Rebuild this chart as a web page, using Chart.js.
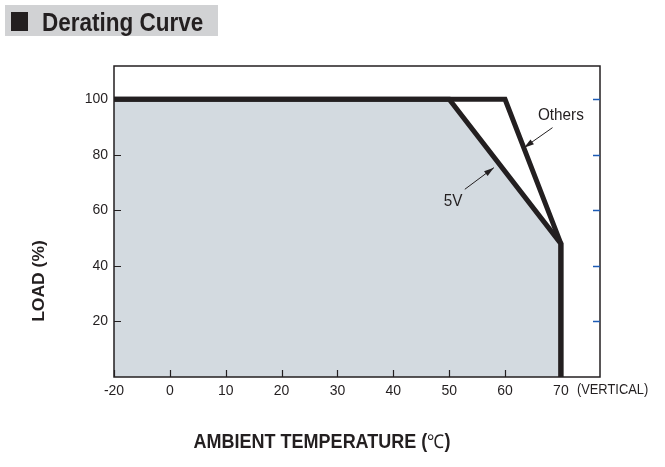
<!DOCTYPE html>
<html>
<head>
<meta charset="utf-8">
<title>Derating Curve</title>
<script src="https://cdn.jsdelivr.net/npm/chart.js@4.4.1/dist/chart.umd.min.js"></script>
<style>
  body { margin: 0; background: #fff; }
  #wrap { position: relative; width: 665px; height: 467px; }
  #header {
    position: absolute; left: 5px; top: 5px; width: 213px; height: 31px;
    background: #d1d2d4;
  }
  #header .box {
    position: absolute; left: 6px; top: 7px; width: 17px; height: 19px;
    background: #231f20;
  }
  #header .txt {
    position: absolute; left: 37px; top: 3px; line-height: 31px;
    white-space: nowrap; transform: scaleX(0.9); transform-origin: 0 0;
    font: bold 25px "Liberation Sans", Arial, sans-serif;
    color: #231f20;
  }
  canvas { position: absolute; left: 0; top: 0; }
</style>
</head>
<body>
<div id="wrap">
  <canvas id="myChart" width="665" height="467"></canvas>
  <div id="header"><div class="box"></div><div class="txt">Derating Curve</div></div>
</div>
<script>
// curve data (ambient temperature in C, load in %)
const temps5V = [-20, 50, 70, 70];
const load5V = [100, 100, 48, 0];
const tempsOthers = [-20, 60, 70, 70];
const loadOthers = [100, 100, 48, 0];

// tick labels
const xTickValues = [-20, 0, 10, 20, 30, 40, 50, 60, 70];
const yTickValues = [20, 40, 60, 80, 100];

// callout labels: text, label position, arrow start, arrow tip (data units)
const calloutText = ["Others", "5V"];
const calloutLabel = [[70, 94.4], [50.7, 63.2]];
const calloutFrom = [[68.5, 89.8], [52.8, 67.6]];
const calloutTo = [[63.4, 82.6], [58.0, 75.4]];

const ink = "#231f20";
const sans = '"Liberation Sans", Arial, sans-serif';

function toPoints(xs, ys) {
  return xs.map((x, i) => ({ x: x, y: ys[i] }));
}

// the temperature axis is broken below 0: -20 sits one step left of 0
class BrokenScale extends Chart.LinearScale {
  getPixelForValue(value) {
    return super.getPixelForValue(value < 0 ? value / 2 : value);
  }
  getValueForPixel(pixel) {
    const v = super.getValueForPixel(pixel);
    return v < 0 ? v * 2 : v;
  }
}
BrokenScale.id = "broken";
BrokenScale.defaults = Chart.LinearScale.defaults;
Chart.register(BrokenScale);

function squeezedText(ctx, text, x, y, sx) {
  ctx.save();
  ctx.translate(x, y);
  ctx.scale(sx, 1);
  ctx.fillText(text, 0, 0);
  ctx.restore();
}

const deratingPlugin = {
  id: "derating",
  afterDraw(chart) {
    const ctx = chart.ctx;
    const area = chart.chartArea;
    const xs = chart.scales.x;
    const ys = chart.scales.y;
    ctx.save();

    // frame
    ctx.strokeStyle = ink;
    ctx.lineWidth = 1.5;
    ctx.strokeRect(area.left, area.top, area.right - area.left, area.bottom - area.top);

    // inner ticks, left and bottom
    ctx.lineWidth = 1.2;
    ctx.beginPath();
    yTickValues.forEach(function (v) {
      const y = Math.round(ys.getPixelForValue(v)) + 0.5;
      ctx.moveTo(area.left, y);
      ctx.lineTo(area.left + 7, y);
    });
    xTickValues.forEach(function (v) {
      const x = Math.round(xs.getPixelForValue(v)) + 0.5;
      ctx.moveTo(x, area.bottom);
      ctx.lineTo(x, area.bottom - 7);
    });
    ctx.stroke();

    // blue ticks on the right
    ctx.strokeStyle = "#1d5bb5";
    ctx.lineWidth = 1.5;
    ctx.beginPath();
    yTickValues.forEach(function (v) {
      const y = Math.round(ys.getPixelForValue(v)) + 0.5;
      ctx.moveTo(area.right, y);
      ctx.lineTo(area.right - 7, y);
    });
    ctx.stroke();

    // callouts
    ctx.fillStyle = ink;
    ctx.strokeStyle = ink;
    ctx.lineWidth = 1;
    ctx.font = "17px " + sans;
    ctx.textAlign = "center";
    ctx.textBaseline = "middle";
    for (let i = 0; i < calloutText.length; i++) {
      const lx = xs.getPixelForValue(calloutLabel[i][0]);
      const ly = ys.getPixelForValue(calloutLabel[i][1]);
      squeezedText(ctx, calloutText[i], lx, ly, 0.9);

      const x1 = xs.getPixelForValue(calloutFrom[i][0]);
      const y1 = ys.getPixelForValue(calloutFrom[i][1]);
      const x2 = xs.getPixelForValue(calloutTo[i][0]);
      const y2 = ys.getPixelForValue(calloutTo[i][1]);
      const ang = Math.atan2(y2 - y1, x2 - x1);
      ctx.beginPath();
      ctx.moveTo(x1, y1);
      ctx.lineTo(x2, y2);
      ctx.stroke();
      ctx.beginPath();
      ctx.moveTo(x2, y2);
      ctx.lineTo(x2 - 10 * Math.cos(ang) + 3 * Math.sin(ang), y2 - 10 * Math.sin(ang) - 3 * Math.cos(ang));
      ctx.lineTo(x2 - 10 * Math.cos(ang) - 3 * Math.sin(ang), y2 - 10 * Math.sin(ang) + 3 * Math.cos(ang));
      ctx.closePath();
      ctx.fill();
    }

    // "(VERTICAL)" after the last x tick
    ctx.font = "14px " + sans;
    ctx.textAlign = "left";
    ctx.textBaseline = "top";
    squeezedText(ctx, "(VERTICAL)", xs.getPixelForValue(70) + 16, area.bottom + 6, 0.92);

    // x axis title: bold text with a light degree sign
    const sx = 0.9;
    const partA = "AMBIENT TEMPERATURE (";
    const partB = "\u2103";
    const partC = ")";
    ctx.textBaseline = "alphabetic";
    ctx.font = "bold 20px " + sans;
    const wA = ctx.measureText(partA).width;
    const wC = ctx.measureText(partC).width;
    ctx.font = "19px " + sans;
    const wB = ctx.measureText(partB).width;
    const total = (wA + wB + wC) * sx;
    let tx = 322 - total / 2;
    const base = 448;
    ctx.font = "bold 20px " + sans;
    squeezedText(ctx, partA, tx, base, sx);
    tx += wA * sx;
    ctx.font = "19px " + sans;
    squeezedText(ctx, partB, tx, base, sx);
    tx += wB * sx;
    ctx.font = "bold 20px " + sans;
    squeezedText(ctx, partC, tx, base, sx);

    // y axis title
    ctx.font = "bold 17px " + sans;
    ctx.textAlign = "center";
    ctx.textBaseline = "middle";
    ctx.translate(39, 281);
    ctx.rotate(-Math.PI / 2);
    squeezedText(ctx, "LOAD (%)", 0, 0, 1.03);
    ctx.restore();
  },
};

const myChart = new Chart(document.getElementById("myChart"), {
  type: "line",
  data: {
    datasets: [
      {
        label: "5V",
        data: toPoints(temps5V, load5V),
        borderColor: ink,
        borderWidth: 5,
        backgroundColor: "#d3dae0",
        fill: "origin",
        tension: 0,
        pointRadius: 0,
        borderJoinStyle: "miter",
      },
      {
        label: "Others",
        data: toPoints(tempsOthers, loadOthers),
        borderColor: ink,
        borderWidth: 5,
        fill: false,
        tension: 0,
        pointRadius: 0,
        borderJoinStyle: "miter",
      },
    ],
  },
  options: {
    responsive: false,
    animation: false,
    layout: { padding: { top: 66, right: 65, left: 0, bottom: 0 } },
    plugins: {
      legend: { display: false },
      tooltip: { enabled: false },
      filler: { drawTime: "beforeDatasetsDraw" },
    },
    scales: {
      x: {
        type: "broken",
        min: -10,
        max: 77,
        grid: { display: false, drawTicks: false },
        border: { display: false },
        afterBuildTicks: function (scale) {
          scale.ticks = xTickValues.map((v) => ({ value: v }));
        },
        afterFit: function (scale) {
          scale.height = 90;
        },
        ticks: {
          autoSkip: false,
          maxRotation: 0,
          padding: 6,
          color: ink,
          font: { family: sans, size: 14 },
        },
      },
      y: {
        min: 0,
        max: 112,
        grid: { display: false, drawTicks: false },
        border: { display: false },
        afterBuildTicks: function (scale) {
          scale.ticks = yTickValues.map((v) => ({ value: v }));
        },
        afterFit: function (scale) {
          scale.width = 114;
        },
        ticks: {
          padding: 6,
          color: ink,
          font: { family: sans, size: 14 },
        },
      },
    },
  },
  plugins: [deratingPlugin],
});
</script>
</body>
</html>
